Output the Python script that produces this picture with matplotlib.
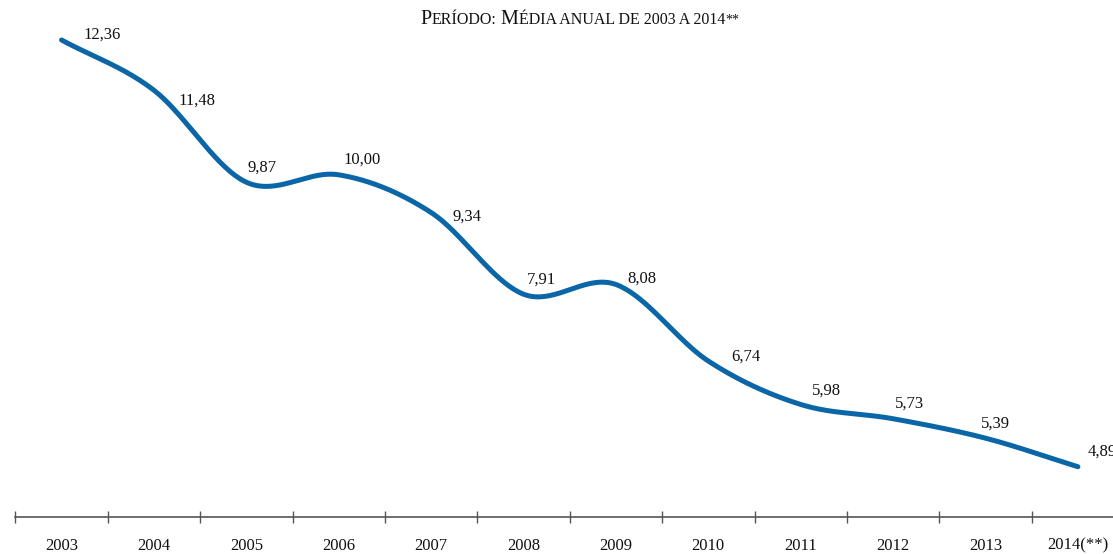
import numpy as np
import matplotlib.pyplot as plt
from matplotlib.offsetbox import TextArea, HPacker, AnchoredOffsetbox

anos = ['2003', '2004', '2005', '2006', '2007', '2008', '2009', '2010',
        '2011', '2012', '2013', '2014(**)']
taxa = [12.36, 11.48, 9.87, 10.00, 9.34, 7.91, 8.08, 6.74, 5.98, 5.73, 5.39, 4.89]

# label offsets in pixels (dx, dy up)
offs = [(41, 5), (43, -10), (16, 15), (23, 15), (36, -4), (18, 15),
        (26, 6), (38, 4), (26, 14), (16, 15), (10, 15), (24, 15)]

azul = '#0a66a6'
plt.rcParams['font.family'] = ['Liberation Serif', 'DejaVu Serif']


def catmull_rom(x, y, n=40):
    x = np.asarray(x, float)
    y = np.asarray(y, float)
    px = np.concatenate([[2 * x[0] - x[1]], x, [2 * x[-1] - x[-2]]])
    py = np.concatenate([[2 * y[0] - y[1]], y, [2 * y[-1] - y[-2]]])
    xs, ys = [], []
    t = np.linspace(0, 1, n)
    for i in range(1, len(px) - 2):
        for p, out in ((px, xs), (py, ys)):
            p0, p1, p2, p3 = p[i - 1], p[i], p[i + 1], p[i + 2]
            m1 = (p2 - p0) / 2
            m2 = (p3 - p1) / 2
            h00 = 2 * t**3 - 3 * t**2 + 1
            h10 = t**3 - 2 * t**2 + t
            h01 = -2 * t**3 + 3 * t**2
            h11 = t**3 - t**2
            out.extend(h00 * p1 + h10 * m1 + h01 * p2 + h11 * m2)
    return np.array(xs), np.array(ys)


fig = plt.figure(figsize=(11.13, 5.54), dpi=100)
ax = fig.add_axes([0, 37 / 554, 1, 517 / 554])

x = np.arange(len(anos))
sx, sy = catmull_rom(x, taxa)
ax.plot(sx, sy, color=azul, lw=3.6, solid_capstyle='round')

for i, v in enumerate(taxa):
    dx, dy = offs[i]
    ax.annotate(f'{v:.2f}'.replace('.', ','), (i, v),
                xytext=(dx * 0.72, dy * 0.72), textcoords='offset points',
                ha='center', va='center', fontsize=12, color='#111111',
                annotation_clip=False)

ax.set_xlim(-0.666, 11.38)
ax.set_ylim(4.01, 13.06)
for s in ['top', 'left', 'right']:
    ax.spines[s].set_visible(False)
ax.spines['bottom'].set_color('#555555')
ax.spines['bottom'].set_linewidth(1.2)
ax.spines['bottom'].set_bounds(-0.5, 11.38)
ax.set_yticks([])
ax.set_xticks(x)
ax.set_xticklabels(anos, fontsize=12, color='#111111')
ax.tick_params(axis='x', which='major', length=0, pad=15)
ax.set_xticks(np.arange(len(anos)) - 0.5, minor=True)
ax.tick_params(axis='x', which='minor', length=8, width=1.0,
               direction='inout', color='#555555')
ax.patch.set_visible(False)

big = dict(size=14.5, color='#111111')
small = dict(size=11.5, color='#111111')
parts = [('P', big), ('ERÍODO:', small), (' M', big),
         ('ÉDIA ANUAL DE 2003 A 2014', small)]
boxes = [TextArea(t, textprops=p) for t, p in parts]
boxes.append(TextArea('**', textprops=dict(size=10, color='#111111')))
pack = HPacker(children=boxes, align='baseline', pad=0, sep=0)
title = AnchoredOffsetbox(loc='upper center', child=pack, frameon=False,
                          bbox_to_anchor=(580 / 1113, 1 - 10 / 554),
                          bbox_transform=fig.transFigure, borderpad=0, pad=0)
fig.add_artist(title)

fig.savefig('out.png', dpi=100)
